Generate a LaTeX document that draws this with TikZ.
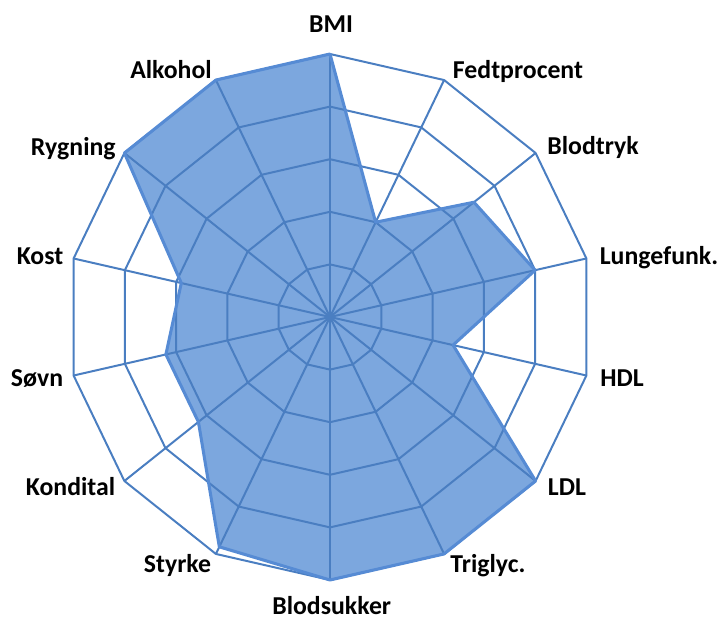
\documentclass[tikz,border=0pt]{standalone}
\usepackage{fontspec}
\setmainfont{Carlito}
\definecolor{gridblue}{RGB}{74,126,193}
\definecolor{areablue}{RGB}{124,167,222}
\definecolor{edgeblue}{RGB}{86,139,212}

\begin{document}
\begin{tikzpicture}[x=0.03cm,y=0.03cm,
    spoke/.style={gridblue, line width=1.7pt},
    lbl/.style={font=\bfseries\fontsize{22}{26}\selectfont, inner sep=0pt, anchor=base}]
\useasboundingbox (-330,-302) rectangle (393,317);

% data points (scale 0..5, one ring = 52.6)
\foreach \v [count=\i] in {5,2,3.5,4,2.4,5,5,5,4.85,3.2,3.2,2.9,5,5}
  \coordinate (p\i) at ({90-(\i-1)*360/14}:{\v*52.6});

% filled area
\fill[areablue] (p1) -- (p2) -- (p3) -- (p4) -- (p5) -- (p6) -- (p7)
  -- (p8) -- (p9) -- (p10) -- (p11) -- (p12) -- (p13) -- (p14) -- cycle;

% rings
\foreach \k in {1,...,5}
  \draw[spoke, line join=round] (90:\k*52.6)
    \foreach \j in {1,...,13} { -- ({90-\j*360/14}:\k*52.6) } -- cycle;

% spokes
\foreach \j in {0,...,13}
  \draw[spoke] (0,0) -- ({90-\j*360/14}:263);

% outline
\draw[edgeblue, line width=2.6pt, line join=round] (p1) -- (p2) -- (p3)
  -- (p4) -- (p5) -- (p6) -- (p7) -- (p8) -- (p9) -- (p10) -- (p11)
  -- (p12) -- (p13) -- (p14) -- cycle;

% labels
\node[lbl] (bmi) at (1, 284) {BMI};
\node[lbl] (fedt) at (188, 238) {Fedtprocent};
\node[lbl] (blodtryk) at (263, 162) {Blodtryk};
\node[lbl] (lunge) at (329, 52) {Lungefunk.};
\node[lbl] (hdl) at (292, -70) {HDL};
\node[lbl] (ldl) at (237, -179) {LDL};
\node[lbl] (trig) at (158, -255) {Triglyc.};
\node[lbl] (sukker) at (1.7, -297) {Blodsukker};
\node[lbl] (styrke) at (-152.5, -255) {Styrke};
\node[lbl] (kondi) at (-259.5, -179) {Kondital};
\node[lbl] (sovn) at (-293, -70) {Søvn};
\node[lbl] (kost) at (-290, 52) {Kost};
\node[lbl] (ryg) at (-256.7, 161.5) {Rygning};
\node[lbl] (alko) at (-159, 238) {Alkohol};
\end{tikzpicture}
\end{document}
